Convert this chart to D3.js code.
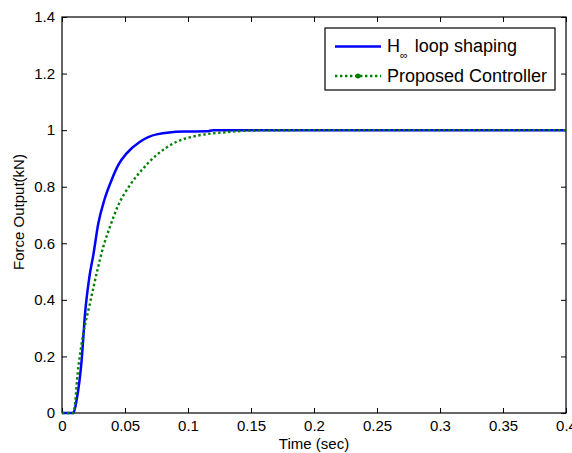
<!DOCTYPE html>
<html>
<head>
<meta charset="utf-8">
<script src="https://cdn.jsdelivr.net/npm/d3@7"></script>
<style>
html,body{margin:0;padding:0;background:#fff;}
svg{display:block;font-family:"Liberation Sans",Arial,Helvetica,sans-serif;}
</style>
</head>
<body>
<svg id="chart" width="572" height="453"></svg>
<script>
// ---- data ----
const xTicks = [0, 0.05, 0.1, 0.15, 0.2, 0.25, 0.3, 0.35, 0.4];
const xTickLabels = ["0", "0.05", "0.1", "0.15", "0.2", "0.25", "0.3", "0.35", "0.4"];
const yTicks = [0, 0.2, 0.4, 0.6, 0.8, 1, 1.2, 1.4];
const yTickLabels = ["0", "0.2", "0.4", "0.6", "0.8", "1", "1.2", "1.4"];

const hinfTime  = [0, 0.009, 0.0116, 0.0156, 0.0183, 0.0217, 0.0249, 0.0288, 0.0336, 0.0394, 0.0447, 0.0513, 0.0619, 0.0751, 0.0963, 0.115, 0.12, 0.2, 0.3, 0.4];
const hinfForce = [0, 0, 0.046, 0.187, 0.352, 0.48, 0.56, 0.67, 0.753, 0.824, 0.877, 0.918, 0.959, 0.985, 0.995, 0.996, 1.0, 1.0, 1.0, 1.0];

const propTime  = [0, 0.009, 0.013, 0.0169, 0.0222, 0.0275, 0.0328, 0.0381, 0.0447, 0.054, 0.0645, 0.0751, 0.091, 0.107, 0.1307, 0.155, 0.2, 0.3, 0.4];
const propForce = [0, 0, 0.164, 0.28, 0.388, 0.494, 0.588, 0.659, 0.735, 0.806, 0.865, 0.912, 0.959, 0.98, 0.993, 0.999, 1.0, 1.0, 1.0];

const seriesNames = ["H", "Proposed Controller"];

// ---- layout ----
const svg = d3.select("#chart");
const L = 62, R = 566, T = 17, B = 413;
const x = d3.scaleLinear().domain([0, 0.4]).range([L, R]);
const y = d3.scaleLinear().domain([0, 1.4]).range([B, T]);

const font = "15px";

// axes with inward ticks
const gx = svg.append("g").attr("transform", `translate(0,${B})`)
  .call(d3.axisBottom(x).tickValues(xTicks).tickFormat((d,i)=>xTickLabels[i]).tickSizeInner(-5).tickSizeOuter(0).tickPadding(7));
const gxt = svg.append("g").attr("transform", `translate(0,${T})`)
  .call(d3.axisTop(x).tickValues(xTicks).tickFormat("").tickSizeInner(-5).tickSizeOuter(0));
const gy = svg.append("g").attr("transform", `translate(${L},0)`)
  .call(d3.axisLeft(y).tickValues(yTicks).tickFormat((d,i)=>yTickLabels[i]).tickSizeInner(-5).tickSizeOuter(0).tickPadding(10));
const gyr = svg.append("g").attr("transform", `translate(${R},0)`)
  .call(d3.axisRight(y).tickValues(yTicks).tickFormat("").tickSizeInner(-5).tickSizeOuter(0));

[gx, gxt, gy, gyr].forEach(g => {
  g.select(".domain").remove();
  g.selectAll(".tick line").attr("stroke", "#000").attr("stroke-width", 1);
  g.selectAll(".tick text").attr("fill", "#000").style("font-size", font).style("font-family", "inherit");
});
gy.selectAll(".tick text").attr("dx", "3px");

// frame
svg.append("rect").attr("x", L).attr("y", T).attr("width", R - L).attr("height", B - T)
  .attr("fill", "none").attr("stroke", "#000").attr("stroke-width", 1.2);

// lines
const line = d3.line().x(d => x(d[0])).y(d => y(d[1])).curve(d3.curveMonotoneX);
const hinfData = hinfTime.map((t, i) => [t, hinfForce[i]]);
const propData = propTime.map((t, i) => [t, propForce[i]]);

svg.append("path").datum(hinfData).attr("d", line)
  .attr("fill", "none").attr("stroke", "#0000ff").attr("stroke-width", 2.5);
svg.append("path").datum(propData).attr("d", line)
  .attr("fill", "none").attr("stroke", "#008000").attr("stroke-width", 2.4)
  .attr("stroke-dasharray", "2.4,2.6");

// axis labels
svg.append("text").attr("x", (L + R) / 2).attr("y", 449).attr("text-anchor", "middle")
  .style("font-size", font).text("Time (sec)");
svg.append("text").attr("transform", `translate(24,${(T + B) / 2 - 3}) rotate(-90)`).attr("text-anchor", "middle")
  .style("font-size", font).text("Force Output(kN)");

// legend
const lg = svg.append("g");
lg.append("rect").attr("x", 325).attr("y", 28).attr("width", 230).attr("height", 62)
  .attr("fill", "#fff").attr("stroke", "#000").attr("stroke-width", 1.2);
lg.append("line").attr("x1", 335).attr("x2", 381).attr("y1", 46.5).attr("y2", 46.5)
  .attr("stroke", "#0000ff").attr("stroke-width", 2.5);
lg.append("line").attr("x1", 335).attr("x2", 381).attr("y1", 76).attr("y2", 76)
  .attr("stroke", "#008000").attr("stroke-width", 2.4).attr("stroke-dasharray", "2.4,2.6");
lg.append("circle").attr("cx", 358).attr("cy", 76).attr("r", 2.5).attr("fill", "#008000");
const t1 = lg.append("text").attr("x", 387).attr("y", 52).style("font-size", "18px");
t1.append("tspan").text(seriesNames[0]);
t1.append("tspan").attr("dy", 7).style("font-size", "11px").text("\u221E");
t1.append("tspan").attr("dy", -7).attr("dx", 2).text(" loop shaping");
lg.append("text").attr("x", 387).attr("y", 82).style("font-size", "18px").text(seriesNames[1]);
</script>
</body>
</html>
